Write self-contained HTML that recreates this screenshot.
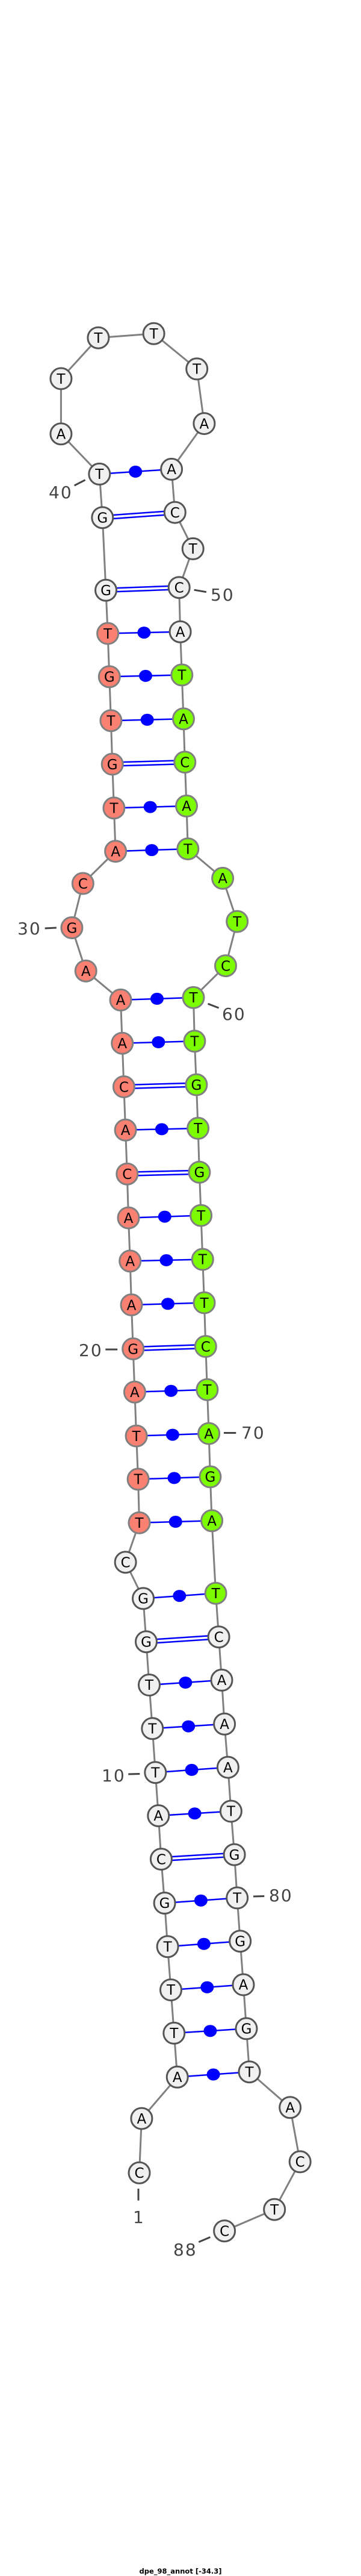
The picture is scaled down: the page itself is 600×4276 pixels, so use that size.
<!DOCTYPE html>
<html><head><meta charset="utf-8"><style>
html,body{margin:0;padding:0;background:#fff;}
svg{display:block;}
.n{stroke-width:3;}
.w{fill:#f0f0f0;stroke:#555;}
.r{fill:#fa8072;stroke:#808080;}
.g{fill:#7cfc00;stroke:#808080;}
.t{font-family:"DejaVu Sans","Liberation Sans",sans-serif;font-size:23px;text-anchor:middle;fill:#000;}
.l{font-family:"DejaVu Sans","Liberation Sans",sans-serif;font-size:28px;fill:#444;letter-spacing:2px;}
.k{stroke:#444;stroke-width:3;}
.p{stroke:#0000ff;stroke-width:2.5;}
</style></head><body>
<svg width="600" height="4276" xmlns="http://www.w3.org/2000/svg">
<polyline fill="none" stroke="#808080" stroke-width="3" points="231.5,3606.8 235.4,3516.6 294.7,3447.8 289.3,3374.9 284,3303.1 278.6,3231.3 273.6,3159 267.9,3086.1 263.3,3014 258.3,2942.2 253.3,2869.3 248,2797 243,2725.2 238,2653.4 208.6,2593.2 231.5,2527.7 229.6,2455.4 226.6,2383.6 223.9,2310.7 221.2,2239 218.5,2166 216.2,2093.3 213.5,2021.6 211.3,1948.7 208.6,1875.8 205.9,1804 203.2,1731.7 200.5,1659.9 142.7,1611.7 119.4,1540 137.8,1466.5 192.1,1413.1 189.4,1341.3 186.7,1268.5 184.4,1196.2 181.8,1123.3 179.1,1051.5 176,979.8 170.3,859.2 165.3,786.9 101.4,720.3 101.4,628.5 163.4,560.7 255.6,553.8 327.2,612.4 339.4,703.1 285.1,778.9 290.8,850.6 320.7,910.9 297.7,975.2 299.6,1048.7 302.3,1120.4 305,1193.3 307.3,1265.1 310,1337.9 312.3,1409.1 370.1,1457.9 394.2,1529.6 375,1603.1 321.5,1655.9 323.4,1728.3 326.4,1800.6 329.1,1872.9 331.4,1945.8 334.1,2017.6 336.8,2090.5 339.5,2162.5 341.8,2235 344.4,2306.7 347.1,2379.6 349.4,2451.4 352.1,2524.3 358.6,2644.8 363.6,2717.2 368.5,2788.9 373.1,2861.8 378.9,2933.6 383.9,3006.5 389.6,3078.6 394.2,3150.4 399.2,3222.2 404.5,3294.5 409.5,3367.4 414.5,3439.2 482.2,3498.3 498.7,3588.4 456.2,3667.6 373.1,3703.2"/>
<!-- single pairs -->
<g class="p">
<line x1="294.7" y1="3447.8" x2="414.5" y2="3439.2"/>
<line x1="289.3" y1="3374.9" x2="409.5" y2="3367.4"/>
<line x1="284" y1="3303.1" x2="404.5" y2="3294.5"/>
<line x1="278.6" y1="3231.3" x2="399.2" y2="3222.2"/>
<line x1="273.6" y1="3159" x2="394.2" y2="3150.4"/>
<line x1="263.3" y1="3014" x2="383.9" y2="3006.5"/>
<line x1="258.3" y1="2942.2" x2="378.9" y2="2933.6"/>
<line x1="253.3" y1="2869.3" x2="373.1" y2="2861.8"/>
<line x1="248" y1="2797" x2="368.5" y2="2788.9"/>
<line x1="238" y1="2653.4" x2="358.6" y2="2644.8"/>
<line x1="231.5" y1="2527.7" x2="352.1" y2="2524.3"/>
<line x1="229.6" y1="2455.4" x2="349.4" y2="2451.4"/>
<line x1="226.6" y1="2383.6" x2="347.1" y2="2379.6"/>
<line x1="223.9" y1="2310.7" x2="344.4" y2="2306.7"/>
<line x1="218.5" y1="2166" x2="339.5" y2="2162.5"/>
<line x1="216.2" y1="2093.3" x2="336.8" y2="2090.5"/>
<line x1="213.5" y1="2021.6" x2="334.1" y2="2017.6"/>
<line x1="208.6" y1="1875.8" x2="329.1" y2="1872.9"/>
<line x1="203.2" y1="1731.7" x2="323.4" y2="1728.3"/>
<line x1="200.5" y1="1659.9" x2="321.5" y2="1655.9"/>
<line x1="192.1" y1="1413.1" x2="312.3" y2="1409.1"/>
<line x1="189.4" y1="1341.3" x2="310" y2="1337.9"/>
<line x1="184.4" y1="1196.2" x2="305" y2="1193.3"/>
<line x1="181.8" y1="1123.3" x2="302.3" y2="1120.4"/>
<line x1="179.1" y1="1051.5" x2="299.6" y2="1048.7"/>
<line x1="165.3" y1="786.9" x2="285.1" y2="778.9"/>
</g>
<!-- double pairs -->
<g class="p" stroke-width="2.2">
<line x1="267.9" y1="3083.1" x2="389.6" y2="3075.6"/><line x1="267.9" y1="3089.1" x2="389.6" y2="3081.6"/>
<line x1="243" y1="2722.2" x2="363.6" y2="2714.2"/><line x1="243" y1="2728.2" x2="363.6" y2="2720.2"/>
<line x1="221.2" y1="2236" x2="341.8" y2="2232"/><line x1="221.2" y1="2242" x2="341.8" y2="2238"/>
<line x1="211.3" y1="1945.7" x2="331.4" y2="1942.8"/><line x1="211.3" y1="1951.7" x2="331.4" y2="1948.8"/>
<line x1="205.9" y1="1801" x2="326.4" y2="1797.6"/><line x1="205.9" y1="1807" x2="326.4" y2="1803.6"/>
<line x1="186.7" y1="1265.5" x2="307.3" y2="1262.1"/><line x1="186.7" y1="1271.5" x2="307.3" y2="1268.1"/>
<line x1="176" y1="976.8" x2="297.7" y2="972.2"/><line x1="176" y1="982.8" x2="297.7" y2="978.2"/>
<line x1="170.3" y1="856.2" x2="290.8" y2="847.6"/><line x1="170.3" y1="862.2" x2="290.8" y2="853.6"/>
</g>
<g fill="#0000ff">
<ellipse cx="354.6" cy="3443.5" rx="11" ry="10"/>
<ellipse cx="349.4" cy="3371.2" rx="11" ry="10"/>
<ellipse cx="344.3" cy="3298.8" rx="11" ry="10"/>
<ellipse cx="338.9" cy="3226.8" rx="11" ry="10"/>
<ellipse cx="333.9" cy="3154.7" rx="11" ry="10"/>
<ellipse cx="323.6" cy="3010.3" rx="11" ry="10"/>
<ellipse cx="318.6" cy="2937.9" rx="11" ry="10"/>
<ellipse cx="313.2" cy="2865.6" rx="11" ry="10"/>
<ellipse cx="308.3" cy="2793" rx="11" ry="10"/>
<ellipse cx="298.3" cy="2649.1" rx="11" ry="10"/>
<ellipse cx="291.8" cy="2526" rx="11" ry="10"/>
<ellipse cx="289.5" cy="2453.4" rx="11" ry="10"/>
<ellipse cx="286.9" cy="2381.6" rx="11" ry="10"/>
<ellipse cx="284.2" cy="2308.7" rx="11" ry="10"/>
<ellipse cx="279" cy="2164.3" rx="11" ry="10"/>
<ellipse cx="276.5" cy="2091.9" rx="11" ry="10"/>
<ellipse cx="273.8" cy="2019.6" rx="11" ry="10"/>
<ellipse cx="268.9" cy="1874.4" rx="11" ry="10"/>
<ellipse cx="263.3" cy="1730" rx="11" ry="10"/>
<ellipse cx="261" cy="1657.9" rx="11" ry="10"/>
<ellipse cx="252.2" cy="1411.1" rx="11" ry="10"/>
<ellipse cx="249.7" cy="1339.6" rx="11" ry="10"/>
<ellipse cx="244.7" cy="1194.8" rx="11" ry="10"/>
<ellipse cx="242" cy="1121.9" rx="11" ry="10"/>
<ellipse cx="239.4" cy="1050.1" rx="11" ry="10"/>
<ellipse cx="225.2" cy="782.9" rx="11" ry="10"/>
</g>
<!-- nodes -->
<g class="n">
<circle class="w" cx="231.5" cy="3606.8" r="17.5"/><circle class="w" cx="235.4" cy="3516.6" r="17.5"/><circle class="w" cx="294.7" cy="3447.8" r="17.5"/><circle class="w" cx="289.3" cy="3374.9" r="17.5"/><circle class="w" cx="284" cy="3303.1" r="17.5"/><circle class="w" cx="278.6" cy="3231.3" r="17.5"/><circle class="w" cx="273.6" cy="3159" r="17.5"/><circle class="w" cx="267.9" cy="3086.1" r="17.5"/><circle class="w" cx="263.3" cy="3014" r="17.5"/><circle class="w" cx="258.3" cy="2942.2" r="17.5"/><circle class="w" cx="253.3" cy="2869.3" r="17.5"/><circle class="w" cx="248" cy="2797" r="17.5"/><circle class="w" cx="243" cy="2725.2" r="17.5"/><circle class="w" cx="238" cy="2653.4" r="17.5"/><circle class="w" cx="208.6" cy="2593.2" r="17.5"/>
<circle class="r" cx="231.5" cy="2527.7" r="17.5"/><circle class="r" cx="229.6" cy="2455.4" r="17.5"/><circle class="r" cx="226.6" cy="2383.6" r="17.5"/><circle class="r" cx="223.9" cy="2310.7" r="17.5"/><circle class="r" cx="221.2" cy="2239" r="17.5"/><circle class="r" cx="218.5" cy="2166" r="17.5"/><circle class="r" cx="216.2" cy="2093.3" r="17.5"/><circle class="r" cx="213.5" cy="2021.6" r="17.5"/><circle class="r" cx="211.3" cy="1948.7" r="17.5"/><circle class="r" cx="208.6" cy="1875.8" r="17.5"/><circle class="r" cx="205.9" cy="1804" r="17.5"/><circle class="r" cx="203.2" cy="1731.7" r="17.5"/><circle class="r" cx="200.5" cy="1659.9" r="17.5"/><circle class="r" cx="142.7" cy="1611.7" r="17.5"/><circle class="r" cx="119.4" cy="1540" r="17.5"/><circle class="r" cx="137.8" cy="1466.5" r="17.5"/><circle class="r" cx="192.1" cy="1413.1" r="17.5"/><circle class="r" cx="189.4" cy="1341.3" r="17.5"/><circle class="r" cx="186.7" cy="1268.5" r="17.5"/><circle class="r" cx="184.4" cy="1196.2" r="17.5"/><circle class="r" cx="181.8" cy="1123.3" r="17.5"/><circle class="r" cx="179.1" cy="1051.5" r="17.5"/>
<circle class="w" cx="176" cy="979.8" r="17.5"/><circle class="w" cx="170.3" cy="859.2" r="17.5"/><circle class="w" cx="165.3" cy="786.9" r="17.5"/><circle class="w" cx="101.4" cy="720.3" r="17.5"/><circle class="w" cx="101.4" cy="628.5" r="17.5"/><circle class="w" cx="163.4" cy="560.7" r="17.5"/><circle class="w" cx="255.6" cy="553.8" r="17.5"/><circle class="w" cx="327.2" cy="612.4" r="17.5"/><circle class="w" cx="339.4" cy="703.1" r="17.5"/><circle class="w" cx="285.1" cy="778.9" r="17.5"/><circle class="w" cx="290.8" cy="850.6" r="17.5"/><circle class="w" cx="320.7" cy="910.9" r="17.5"/><circle class="w" cx="297.7" cy="975.2" r="17.5"/><circle class="w" cx="299.6" cy="1048.7" r="17.5"/>
<circle class="g" cx="302.3" cy="1120.4" r="17.5"/><circle class="g" cx="305" cy="1193.3" r="17.5"/><circle class="g" cx="307.3" cy="1265.1" r="17.5"/><circle class="g" cx="310" cy="1337.9" r="17.5"/><circle class="g" cx="312.3" cy="1409.1" r="17.5"/><circle class="g" cx="370.1" cy="1457.9" r="17.5"/><circle class="g" cx="394.2" cy="1529.6" r="17.5"/><circle class="g" cx="375" cy="1603.1" r="17.5"/><circle class="g" cx="321.5" cy="1655.9" r="17.5"/><circle class="g" cx="323.4" cy="1728.3" r="17.5"/><circle class="g" cx="326.4" cy="1800.6" r="17.5"/><circle class="g" cx="329.1" cy="1872.9" r="17.5"/><circle class="g" cx="331.4" cy="1945.8" r="17.5"/><circle class="g" cx="334.1" cy="2017.6" r="17.5"/><circle class="g" cx="336.8" cy="2090.5" r="17.5"/><circle class="g" cx="339.5" cy="2162.5" r="17.5"/><circle class="g" cx="341.8" cy="2235" r="17.5"/><circle class="g" cx="344.4" cy="2306.7" r="17.5"/><circle class="g" cx="347.1" cy="2379.6" r="17.5"/><circle class="g" cx="349.4" cy="2451.4" r="17.5"/><circle class="g" cx="352.1" cy="2524.3" r="17.5"/><circle class="g" cx="358.6" cy="2644.8" r="17.5"/>
<circle class="w" cx="363.6" cy="2717.2" r="17.5"/><circle class="w" cx="368.5" cy="2788.9" r="17.5"/><circle class="w" cx="373.1" cy="2861.8" r="17.5"/><circle class="w" cx="378.9" cy="2933.6" r="17.5"/><circle class="w" cx="383.9" cy="3006.5" r="17.5"/><circle class="w" cx="389.6" cy="3078.6" r="17.5"/><circle class="w" cx="394.2" cy="3150.4" r="17.5"/><circle class="w" cx="399.2" cy="3222.2" r="17.5"/><circle class="w" cx="404.5" cy="3294.5" r="17.5"/><circle class="w" cx="409.5" cy="3367.4" r="17.5"/><circle class="w" cx="414.5" cy="3439.2" r="17.5"/><circle class="w" cx="482.2" cy="3498.3" r="17.5"/><circle class="w" cx="498.7" cy="3588.4" r="17.5"/><circle class="w" cx="456.2" cy="3667.6" r="17.5"/><circle class="w" cx="373.1" cy="3703.2" r="17.5"/>
</g>
<g class="t">
<text x="231.5" y="3615">C</text><text x="235.4" y="3525">A</text><text x="294.7" y="3456">A</text><text x="289.3" y="3383">T</text><text x="284" y="3311">T</text><text x="278.6" y="3239.5">T</text><text x="273.6" y="3167">G</text><text x="267.9" y="3094.5">C</text><text x="263.3" y="3022">A</text><text x="258.3" y="2950.5">T</text><text x="253.3" y="2877.5">T</text><text x="248" y="2805">T</text><text x="243" y="2733.5">G</text><text x="238" y="2661.5">G</text><text x="208.6" y="2601.5">C</text>
<text x="231.5" y="2536">T</text><text x="229.6" y="2463.5">T</text><text x="226.6" y="2392">T</text><text x="223.9" y="2319">A</text><text x="221.2" y="2247.5">G</text><text x="218.5" y="2174.5">A</text><text x="216.2" y="2101.5">A</text><text x="213.5" y="2030">A</text><text x="211.3" y="1957">C</text><text x="208.6" y="1884">A</text><text x="205.9" y="1812.5">C</text><text x="203.2" y="1740">A</text><text x="200.5" y="1668">A</text><text x="142.7" y="1620">A</text><text x="119.4" y="1548.5">G</text><text x="137.8" y="1475">C</text><text x="192.1" y="1421.5">A</text><text x="189.4" y="1349.5">T</text><text x="186.7" y="1277">G</text><text x="184.4" y="1204.5">T</text><text x="181.8" y="1131.5">G</text><text x="179.1" y="1060">T</text>
<text x="176" y="988">G</text><text x="170.3" y="867.5">G</text><text x="165.3" y="795">T</text><text x="101.4" y="728.5">A</text><text x="101.4" y="637">T</text><text x="163.4" y="569">T</text><text x="255.6" y="562">T</text><text x="327.2" y="620.5">T</text><text x="339.4" y="711.5">A</text><text x="285.1" y="787">A</text><text x="290.8" y="859">C</text><text x="320.7" y="919">T</text><text x="297.7" y="983.5">C</text><text x="299.6" y="1057">A</text>
<text x="302.3" y="1128.5">T</text><text x="305" y="1201.5">A</text><text x="307.3" y="1273.5">C</text><text x="310" y="1346">A</text><text x="312.3" y="1417.5">T</text><text x="370.1" y="1466">A</text><text x="394.2" y="1538">T</text><text x="375" y="1611.5">C</text><text x="321.5" y="1664">T</text><text x="323.4" y="1736.5">T</text><text x="326.4" y="1809">G</text><text x="329.1" y="1881">T</text><text x="331.4" y="1954">G</text><text x="334.1" y="2026">T</text><text x="336.8" y="2098.5">T</text><text x="339.5" y="2171">T</text><text x="341.8" y="2243.5">C</text><text x="344.4" y="2315">T</text><text x="347.1" y="2388">A</text><text x="349.4" y="2459.5">G</text><text x="352.1" y="2532.5">A</text><text x="358.6" y="2653">T</text>
<text x="363.6" y="2725.5">C</text><text x="368.5" y="2797">A</text><text x="373.1" y="2870">A</text><text x="378.9" y="2942">A</text><text x="383.9" y="3014.5">T</text><text x="389.6" y="3087">G</text><text x="394.2" y="3158.5">T</text><text x="399.2" y="3230.5">G</text><text x="404.5" y="3302.5">A</text><text x="409.5" y="3375.5">G</text><text x="414.5" y="3447.5">T</text><text x="482.2" y="3506.5">A</text><text x="498.7" y="3596.5">C</text><text x="456.2" y="3676">T</text><text x="373.1" y="3711.5">C</text>
</g>
<!-- labels -->
<g class="k">
<line x1="123.6" y1="805.9" x2="141.6" y2="796.7"/>
<line x1="322.6" y1="979.2" x2="342.9" y2="982.7"/>
<line x1="74.6" y1="1541" x2="93.8" y2="1540"/>
<line x1="345.6" y1="1666.2" x2="363.6" y2="1673.1"/>
<line x1="175.3" y1="2240" x2="195.2" y2="2240"/>
<line x1="372" y1="2378.5" x2="392.3" y2="2378.5"/>
<line x1="213.2" y1="2945" x2="232.3" y2="2944.5"/>
<line x1="421" y1="3148" x2="439.3" y2="3147.5"/>
<line x1="230" y1="3633" x2="230" y2="3652.7"/>
<line x1="330.3" y1="3721.6" x2="349.4" y2="3713.5"/>
</g>
<g class="l">
<text x="81" y="827">40</text>
<text x="350" y="997">50</text>
<text x="29" y="1551">30</text>
<text x="369" y="1693">60</text>
<text x="131" y="2251">20</text>
<text x="401" y="2388">70</text>
<text x="169" y="2957">10</text>
<text x="447" y="3156">80</text>
<text x="221" y="3690">1</text>
<text x="288" y="3744">88</text>
</g>
<text x="300" y="4272" text-anchor="middle" font-family="DejaVu Sans,Liberation Sans,sans-serif" font-weight="bold" font-size="11.5" fill="#000">dpe_98_annot [-34.3]</text>
</svg>
</body></html>
